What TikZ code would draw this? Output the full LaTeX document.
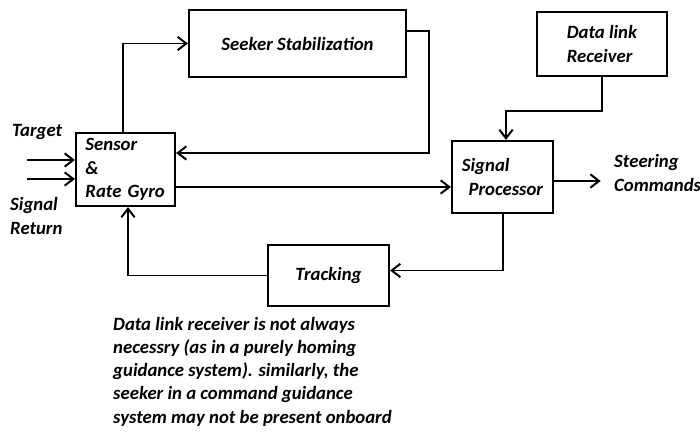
\documentclass[tikz,border=0pt]{standalone}
\usepackage{fontspec}
\setmainfont{Carlito}[BoldItalicFont={Carlito Bold Italic}]
\usetikzlibrary{arrows.meta}
\begin{document}
\begin{tikzpicture}[x=0.03cm,y=-0.03cm,
    font=\fontsize{16}{19.8}\selectfont\bfseries\itshape,
    >={Straight Barb[length=2.6mm,width=4mm]},
    conn/.style={draw=black,line width=1.7pt,->}]
      \useasboundingbox (0,0) rectangle (700,432);
      \begin{scope}[every node/.style={rectangle,draw,line width=1.8pt,align=left}]
        \node[minimum width=2.97cm,minimum height=2.19cm,text width=2.4cm] (sensor) at (125.5,169.5) {Sensor\\\&\\Rate Gyro};
        \node[minimum width=6.51cm,minimum height=2.01cm] (seeker) at (297.5,43.5) {Seeker Stabilization};
        \node[minimum width=3.9cm,minimum height=1.92cm] (dl) at (602,44) {Data link\hspace{0.2cm}\\Receiver};
        \node[minimum width=3.03cm,minimum height=2.16cm] (sp) at (502.5,177) {Signal\\\hspace{0.2cm}Processor};
        \node[minimum width=3.63cm,minimum height=1.83cm] (trk) at (328.5,275.5) {Tracking};
      \end{scope}
      \begin{scope}[every node/.style={align=left,inner sep=0pt}]
        \node[anchor=west] (target) at (12,132) {Target};
        \node[anchor=west] (sigret) at (10,216) {Signal\\Return};
        \node[anchor=west] (steer) at (614,173) {Steering\\Commands};
        \node[anchor=north west] (note) at (113,317) {Data link receiver is not always\\necessry (as in a purely homing\\guidance system). similarly, the\\seeker in a command guidance\\system may not be present onboard};
      \end{scope}
      \coordinate (tin) at (27,160);
      \coordinate (rin) at (27,179);
      \coordinate (spout) at ([yshift=-0.12cm]sp.east);
      \begin{scope}[every path/.style={conn}]
          \draw (tin) -- (tin -| sensor.west);
          \draw (rin) -- (rin -| sensor.west);
          \draw ([xshift=-0.075cm]sensor.north) |- (seeker.west);
          \draw ([yshift=0.375cm]seeker.east) -- ++(22,0) |- ([yshift=0.495cm]sensor.east);
          \draw ([yshift=-0.525cm]sensor.east) -- ([yshift=-0.3cm]sp.west);
          \draw (dl.south) -- ++(0,34) -| ([xshift=0.105cm]sp.north);
          \draw (spout) -- ([xshift=-0.4cm]spout -| steer.west);
          \draw (sp.south) |- ([yshift=0.15cm]trk.east);
          \draw (trk.west) -| ([xshift=0.075cm]sensor.south);
      \end{scope}
    \end{tikzpicture}
\end{document}
